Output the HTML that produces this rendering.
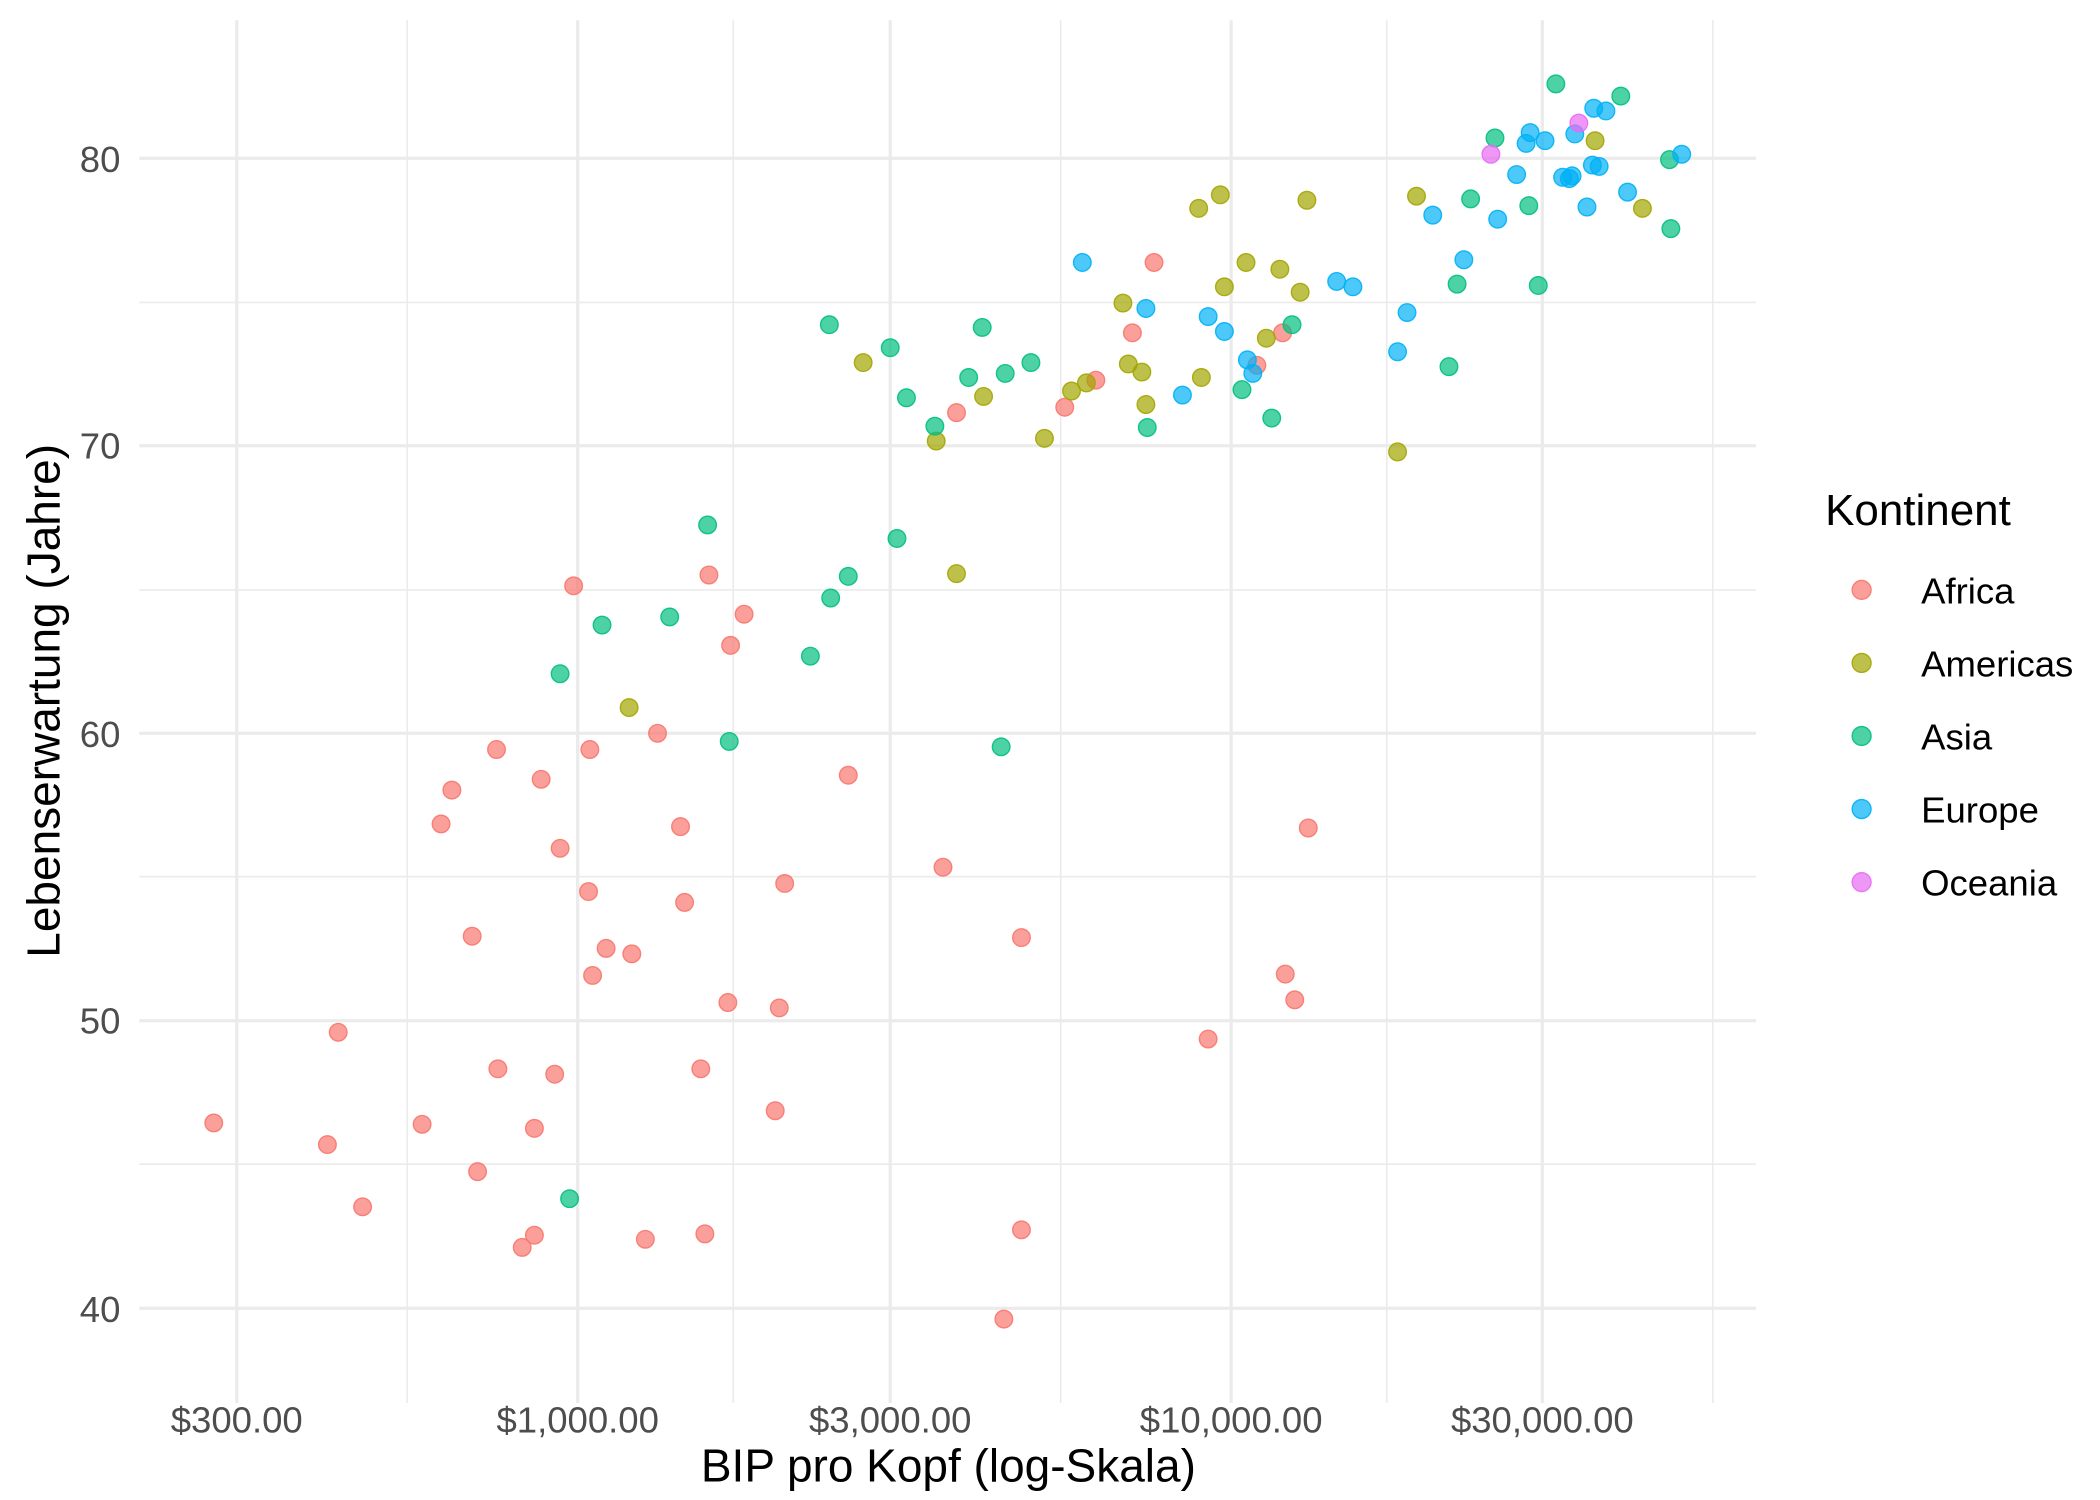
<!DOCTYPE html>
<html><head><meta charset="utf-8"><style>html,body{margin:0;padding:0;background:#fff}svg{display:block}</style></head>
<body>
<svg width="2100" height="1500" viewBox="0 0 1552.2 1108.7" xmlns="http://www.w3.org/2000/svg" font-family="Liberation Sans, sans-serif">
<rect width="1552.2" height="1108.7" fill="#fff"/>
<g stroke="#ebebeb" stroke-width="1.2">
<line x1="103" x2="1298" y1="223.5" y2="223.5"/><line x1="103" x2="1298" y1="436" y2="436"/><line x1="103" x2="1298" y1="648" y2="648"/><line x1="103" x2="1298" y1="860.5" y2="860.5"/>
<line x1="301" x2="301" y1="15" y2="1037"/><line x1="542" x2="542" y1="15" y2="1037"/><line x1="784" x2="784" y1="15" y2="1037"/><line x1="1025" x2="1025" y1="15" y2="1037"/><line x1="1266" x2="1266" y1="15" y2="1037"/>
</g>
<g stroke="#ebebeb" stroke-width="2.4">
<line x1="103" x2="1298" y1="117" y2="117"/><line x1="103" x2="1298" y1="329.5" y2="329.5"/><line x1="103" x2="1298" y1="542" y2="542"/><line x1="103" x2="1298" y1="754.5" y2="754.5"/><line x1="103" x2="1298" y1="967" y2="967"/>
<line x1="175" x2="175" y1="15" y2="1037"/><line x1="427" x2="427" y1="15" y2="1037"/><line x1="658" x2="658" y1="15" y2="1037"/><line x1="910" x2="910" y1="15" y2="1037"/><line x1="1140" x2="1140" y1="15" y2="1037"/>
</g>
<g fill="#4d4d4d" font-size="27" text-anchor="end">
<text x="89" y="127">80</text><text x="89" y="339">70</text><text x="89" y="552">60</text><text x="89" y="764">50</text><text x="89" y="977">40</text>
</g>
<g fill="#4d4d4d" font-size="27" text-anchor="middle">
<text x="175" y="1059">$300.00</text><text x="427" y="1059">$1,000.00</text><text x="658" y="1059">$3,000.00</text><text x="910" y="1059">$10,000.00</text><text x="1140" y="1059">$30,000.00</text>
</g>
<text x="701" y="1095" font-size="34" text-anchor="middle" fill="#000">BIP pro Kopf (log-Skala)</text>
<text transform="translate(44,518) rotate(-90)" font-size="34" text-anchor="middle" fill="#000">Lebenserwartung (Jahre)</text>
<g fill-opacity="0.7" stroke-opacity="0.9" stroke-width="1">
<g fill="#F8766D" stroke="#F8766D">
<circle cx="158" cy="830" r="6.5"/><circle cx="250" cy="763" r="6.5"/><circle cx="242" cy="846" r="6.5"/><circle cx="268" cy="892" r="6.5"/><circle cx="312" cy="831" r="6.5"/><circle cx="326" cy="609" r="6.5"/><circle cx="334" cy="584" r="6.5"/><circle cx="349" cy="692" r="6.5"/><circle cx="353" cy="866" r="6.5"/><circle cx="367" cy="554" r="6.5"/><circle cx="368" cy="790" r="6.5"/><circle cx="395" cy="834" r="6.5"/><circle cx="395" cy="913" r="6.5"/><circle cx="386" cy="922" r="6.5"/><circle cx="400" cy="576" r="6.5"/><circle cx="410" cy="794" r="6.5"/><circle cx="414" cy="627" r="6.5"/><circle cx="424" cy="433" r="6.5"/><circle cx="435" cy="659" r="6.5"/><circle cx="436" cy="554" r="6.5"/><circle cx="438" cy="721" r="6.5"/><circle cx="448" cy="701" r="6.5"/><circle cx="467" cy="705" r="6.5"/><circle cx="477" cy="916" r="6.5"/><circle cx="486" cy="542" r="6.5"/><circle cx="503" cy="611" r="6.5"/><circle cx="506" cy="667" r="6.5"/><circle cx="518" cy="790" r="6.5"/><circle cx="521" cy="912" r="6.5"/><circle cx="524" cy="425" r="6.5"/><circle cx="538" cy="741" r="6.5"/><circle cx="540" cy="477" r="6.5"/><circle cx="550" cy="454" r="6.5"/><circle cx="573" cy="821" r="6.5"/><circle cx="576" cy="745" r="6.5"/><circle cx="580" cy="653" r="6.5"/><circle cx="627" cy="573" r="6.5"/><circle cx="697" cy="641" r="6.5"/><circle cx="707" cy="305" r="6.5"/><circle cx="742" cy="975" r="6.5"/><circle cx="755" cy="693" r="6.5"/><circle cx="755" cy="909" r="6.5"/><circle cx="787" cy="301" r="6.5"/><circle cx="810" cy="281" r="6.5"/><circle cx="837" cy="246" r="6.5"/><circle cx="853" cy="194" r="6.5"/><circle cx="893" cy="768" r="6.5"/><circle cx="929" cy="270" r="6.5"/><circle cx="948" cy="246" r="6.5"/><circle cx="950" cy="720" r="6.5"/><circle cx="957" cy="739" r="6.5"/><circle cx="967" cy="612" r="6.5"/>
</g>
<g fill="#A3A500" stroke="#A3A500">
<circle cx="465" cy="523" r="6.5"/><circle cx="638" cy="268" r="6.5"/><circle cx="692" cy="326" r="6.5"/><circle cx="707" cy="424" r="6.5"/><circle cx="727" cy="293" r="6.5"/><circle cx="772" cy="324" r="6.5"/><circle cx="792" cy="289" r="6.5"/><circle cx="803" cy="283" r="6.5"/><circle cx="830" cy="224" r="6.5"/><circle cx="834" cy="269" r="6.5"/><circle cx="844" cy="275" r="6.5"/><circle cx="847" cy="299" r="6.5"/><circle cx="886" cy="154" r="6.5"/><circle cx="888" cy="279" r="6.5"/><circle cx="902" cy="144" r="6.5"/><circle cx="905" cy="212" r="6.5"/><circle cx="921" cy="194" r="6.5"/><circle cx="936" cy="250" r="6.5"/><circle cx="946" cy="199" r="6.5"/><circle cx="961" cy="216" r="6.5"/><circle cx="966" cy="148" r="6.5"/><circle cx="1033" cy="334" r="6.5"/><circle cx="1047" cy="145" r="6.5"/><circle cx="1179" cy="104" r="6.5"/><circle cx="1214" cy="154" r="6.5"/>
</g>
<g fill="#00BF7D" stroke="#00BF7D">
<circle cx="414" cy="498" r="6.5"/><circle cx="421" cy="886" r="6.5"/><circle cx="445" cy="462" r="6.5"/><circle cx="495" cy="456" r="6.5"/><circle cx="523" cy="388" r="6.5"/><circle cx="539" cy="548" r="6.5"/><circle cx="599" cy="485" r="6.5"/><circle cx="613" cy="240" r="6.5"/><circle cx="614" cy="442" r="6.5"/><circle cx="627" cy="426" r="6.5"/><circle cx="658" cy="257" r="6.5"/><circle cx="663" cy="398" r="6.5"/><circle cx="670" cy="294" r="6.5"/><circle cx="691" cy="315" r="6.5"/><circle cx="716" cy="279" r="6.5"/><circle cx="726" cy="242" r="6.5"/><circle cx="740" cy="552" r="6.5"/><circle cx="743" cy="276" r="6.5"/><circle cx="762" cy="268" r="6.5"/><circle cx="848" cy="316" r="6.5"/><circle cx="918" cy="288" r="6.5"/><circle cx="940" cy="309" r="6.5"/><circle cx="955" cy="240" r="6.5"/><circle cx="1071" cy="271" r="6.5"/><circle cx="1077" cy="210" r="6.5"/><circle cx="1087" cy="147" r="6.5"/><circle cx="1105" cy="102" r="6.5"/><circle cx="1130" cy="152" r="6.5"/><circle cx="1137" cy="211" r="6.5"/><circle cx="1150" cy="62" r="6.5"/><circle cx="1198" cy="71" r="6.5"/><circle cx="1234" cy="118" r="6.5"/><circle cx="1235" cy="169" r="6.5"/>
</g>
<g fill="#00B0F6" stroke="#00B0F6">
<circle cx="800" cy="194" r="6.5"/><circle cx="847" cy="228" r="6.5"/><circle cx="874" cy="292" r="6.5"/><circle cx="893" cy="234" r="6.5"/><circle cx="905" cy="245" r="6.5"/><circle cx="922" cy="266" r="6.5"/><circle cx="926" cy="276" r="6.5"/><circle cx="988" cy="208" r="6.5"/><circle cx="1000" cy="212" r="6.5"/><circle cx="1033" cy="260" r="6.5"/><circle cx="1040" cy="231" r="6.5"/><circle cx="1059" cy="159" r="6.5"/><circle cx="1082" cy="192" r="6.5"/><circle cx="1107" cy="162" r="6.5"/><circle cx="1121" cy="129" r="6.5"/><circle cx="1128" cy="106" r="6.5"/><circle cx="1131" cy="98" r="6.5"/><circle cx="1142" cy="104" r="6.5"/><circle cx="1155" cy="131" r="6.5"/><circle cx="1160" cy="132" r="6.5"/><circle cx="1162" cy="130" r="6.5"/><circle cx="1164" cy="99" r="6.5"/><circle cx="1173" cy="153" r="6.5"/><circle cx="1177" cy="122" r="6.5"/><circle cx="1178" cy="80" r="6.5"/><circle cx="1182" cy="123" r="6.5"/><circle cx="1187" cy="82" r="6.5"/><circle cx="1203" cy="142" r="6.5"/><circle cx="1243" cy="114" r="6.5"/>
</g>
<g fill="#E76BF3" stroke="#E76BF3">
<circle cx="1102" cy="114" r="6.5"/><circle cx="1167" cy="91" r="6.5"/>
</g>
</g>
<text x="1349" y="388" font-size="32.5" fill="#000">Kontinent</text>
<g fill-opacity="0.7" stroke-opacity="0.9">
<circle cx="1376" cy="436" r="7" fill="#F8766D" stroke="#F8766D"/>
<circle cx="1376" cy="490" r="7" fill="#A3A500" stroke="#A3A500"/>
<circle cx="1376" cy="544" r="7" fill="#00BF7D" stroke="#00BF7D"/>
<circle cx="1376" cy="598" r="7" fill="#00B0F6" stroke="#00B0F6"/>
<circle cx="1376" cy="652" r="7" fill="#E76BF3" stroke="#E76BF3"/>
</g>
<g font-size="27" fill="#000">
<text x="1420" y="446">Africa</text><text x="1420" y="500">Americas</text><text x="1420" y="554">Asia</text><text x="1420" y="608">Europe</text><text x="1420" y="662">Oceania</text>
</g>
</svg>
</body></html>
